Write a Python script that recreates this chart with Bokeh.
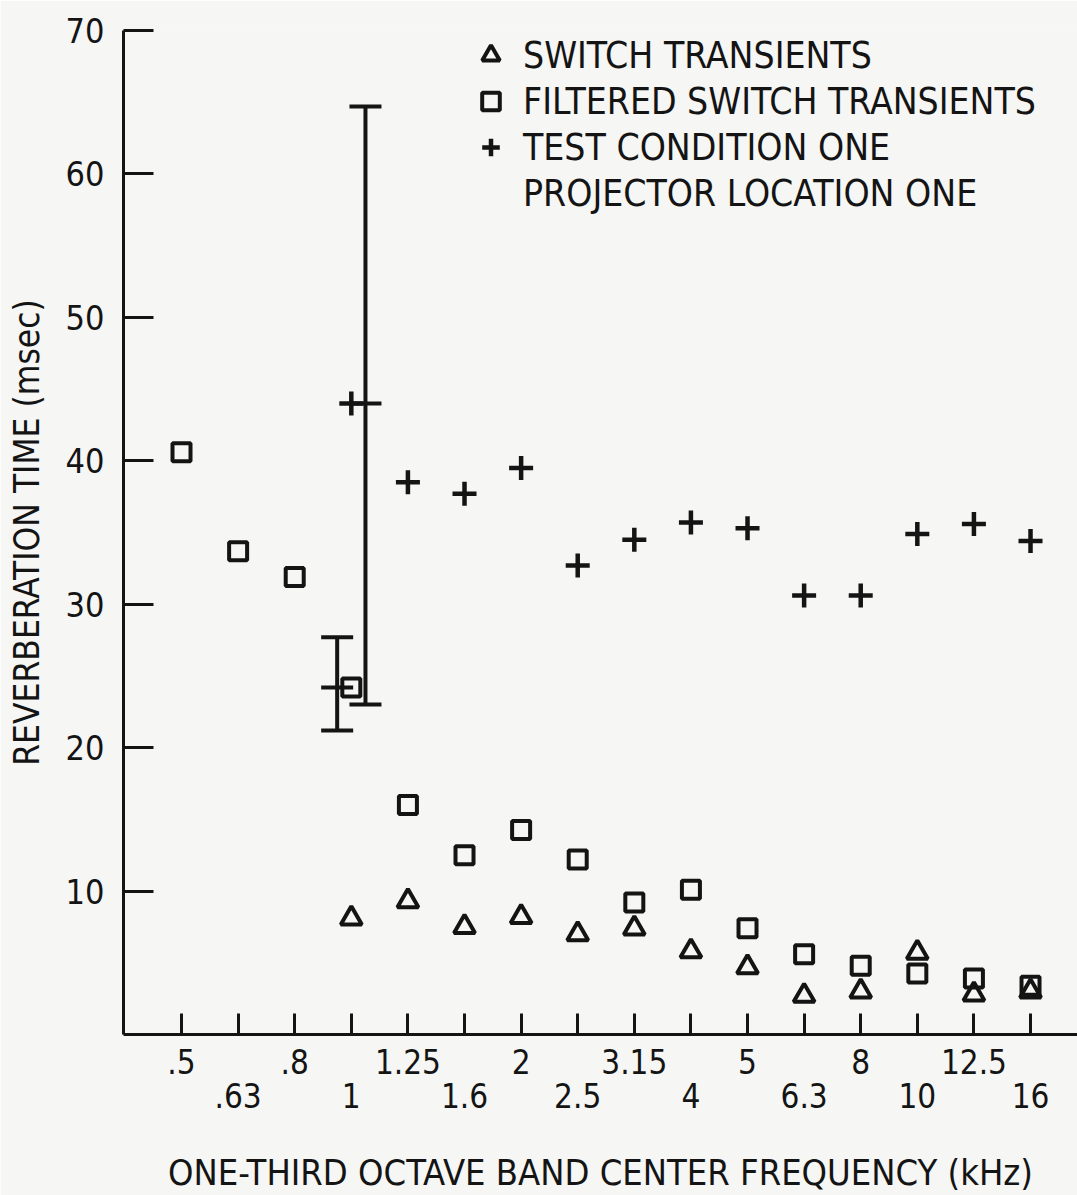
from bokeh.plotting import figure
from bokeh.models import (ColumnDataSource, Range1d, FixedTicker, Whisker, TeeHead,
                          LinearAxis, Legend, LegendItem)
from bokeh.transform import dodge
from bokeh.embed import file_html
from bokeh.resources import INLINE

# ---------------- data ----------------
bands = [".5", ".63", ".8", "1", "1.25", "1.6", "2", "2.5", "3.15", "4",
         "5", "6.3", "8", "10", "12.5", "16"]
filtered = [40.6, 33.7, 31.9, 24.2, 16.0, 12.5, 14.25, 12.2, 9.2, 10.1,
            7.4, 5.6, 4.8, 4.25, 3.9, 3.4]
switch_bands = ["1", "1.25", "1.6", "2", "2.5", "3.15", "4", "5", "6.3", "8",
                "10", "12.5", "16"]
switch = [8.1, 9.3, 7.5, 8.2, 7.0, 7.4, 5.8, 4.7, 2.7, 3.0, 5.7, 2.8, 3.0]
test_bands = ["1", "1.25", "1.6", "2", "2.5", "3.15", "4", "5", "6.3", "8",
              "10", "12.5", "16"]
test = [44.0, 38.5, 37.7, 39.5, 32.7, 34.5, 35.7, 35.3, 30.6, 30.6, 34.9, 35.6, 34.4]
err_band = "1"
filtered_err_lower, filtered_err_upper = 21.2, 27.7
test_err_lower, test_err_upper = 23.0, 64.7
y_ticks = [10, 20, 30, 40, 50, 60, 70]

legend_labels = ["SWITCH TRANSIENTS", "FILTERED SWITCH TRANSIENTS",
                 "TEST CONDITION ONE", "PROJECTOR LOCATION ONE"]
x_title = "ONE-THIRD OCTAVE BAND CENTER FREQUENCY (kHz)"
y_title = "REVERBERATION TIME (msec)"

# ---------------- style ----------------
FONT = "'Liberation Sans Narrow', 'DejaVu Sans Condensed', 'Arial Narrow', sans-serif"
INK = "#141414"
BG = "#f6f6f4"

idx = {b: i for i, b in enumerate(bands)}

p = figure(width=1077, height=1195, output_backend="svg", toolbar_location=None,
           x_range=Range1d(-1.025, 15.83), y_range=Range1d(0, 70),
           min_border_left=123, min_border_top=30, min_border_right=0,
           min_border_bottom=159)
p.background_fill_color = BG
p.border_fill_color = BG
p.outline_line_color = None
p.grid.visible = False

# y axis
ya = p.yaxis[0]
ya.ticker = FixedTicker(ticks=y_ticks)
ya.major_tick_in = 30
ya.major_tick_out = 0
ya.minor_tick_line_color = None
ya.major_tick_line_width = 3
ya.major_tick_line_color = INK
ya.axis_line_width = 3
ya.axis_line_color = INK
ya.major_label_text_font = FONT
ya.major_label_text_font_size = "34px"
ya.major_label_text_color = INK
ya.major_label_standoff = 19
ya.axis_label = y_title
ya.axis_label_text_font = FONT
ya.axis_label_text_font_size = "35px"
ya.axis_label_text_font_style = "normal"
ya.axis_label_text_color = INK
ya.axis_label_standoff = 16

# x axis: two rows of labels
xa = p.xaxis[0]
xa.ticker = FixedTicker(ticks=list(range(len(bands))))
xa.major_label_overrides = {i: (b if i % 2 == 0 else "") for i, b in enumerate(bands)}
xa.major_tick_in = 21
xa.major_tick_out = 0
xa.minor_tick_line_color = None
xa.major_tick_line_width = 3
xa.major_tick_line_color = INK
xa.axis_line_width = 3
xa.axis_line_color = INK
xa.major_label_text_font = FONT
xa.major_label_text_font_size = "33px"
xa.major_label_text_color = INK
xa.major_label_standoff = 14

xa2 = LinearAxis(ticker=FixedTicker(ticks=list(range(len(bands)))))
xa2.major_label_overrides = {i: (b if i % 2 == 1 else "") for i, b in enumerate(bands)}
xa2.axis_line_color = None
xa2.major_tick_line_color = None
xa2.minor_tick_line_color = None
xa2.major_tick_in = 0
xa2.major_tick_out = 0
xa2.major_label_text_font = FONT
xa2.major_label_text_font_size = "33px"
xa2.major_label_text_color = INK
xa2.major_label_standoff = 6
xa2.axis_label = x_title
xa2.axis_label_text_font = FONT
xa2.axis_label_text_font_size = "36px"
xa2.axis_label_text_font_style = "normal"
xa2.axis_label_text_color = INK
xa2.axis_label_standoff = 41
p.add_layout(xa2, "below")

# ---------------- data sources ----------------
src_f = ColumnDataSource(dict(x=[idx[b] for b in bands], y=filtered))
src_s = ColumnDataSource(dict(x=[idx[b] for b in switch_bands], y=switch))
src_t = ColumnDataSource(dict(x=[idx[b] for b in test_bands], y=test))

src_ferr = ColumnDataSource(dict(x=[idx[err_band]], lower=[filtered_err_lower],
                                 upper=[filtered_err_upper],
                                 mid=[filtered[idx[err_band]]]))
src_terr = ColumnDataSource(dict(x=[idx[err_band]], lower=[test_err_lower],
                                 upper=[test_err_upper],
                                 mid=[test[test_bands.index(err_band)]]))

# error bars
for src, off in ((src_ferr, -0.25), (src_terr, 0.25)):
    w = Whisker(base=dodge("x", off), upper="upper", lower="lower", source=src,
                dimension="height", line_width=4, line_color=INK,
                upper_head=TeeHead(size=32, line_width=4, line_color=INK),
                lower_head=TeeHead(size=32, line_width=4, line_color=INK))
    p.add_layout(w)
    p.scatter(x=dodge("x", off), y="mid", source=src, marker="dash", size=32,
              line_width=4, line_color=INK)

r_tri = p.scatter("x", "y", source=src_s, marker="triangle", size=21,
                  line_width=4, line_color=INK, fill_color=None)
r_sq = p.scatter("x", "y", source=src_f, marker="square", size=18,
                 line_width=4, line_color=INK, fill_color=None)
r_cr = p.scatter("x", "y", source=src_t, marker="cross", size=24,
                 line_width=4.5, line_color=INK)
r_dummy = p.scatter(x=[], y=[], marker="cross", line_alpha=0, fill_alpha=0)

legend = Legend(items=[LegendItem(label=legend_labels[0], renderers=[r_tri]),
                       LegendItem(label=legend_labels[1], renderers=[r_sq]),
                       LegendItem(label=legend_labels[2], renderers=[r_cr]),
                       LegendItem(label=legend_labels[3], renderers=[r_dummy])],
                location=(345, 819), padding=0, margin=0, spacing=2,
                label_height=44, glyph_height=44, glyph_width=45,
                label_standoff=10, border_line_color=None,
                background_fill_alpha=0, label_text_font=FONT,
                label_text_font_size="37px", label_text_color=INK)
p.add_layout(legend)

open("out.html", "w").write(file_html(p, INLINE))
